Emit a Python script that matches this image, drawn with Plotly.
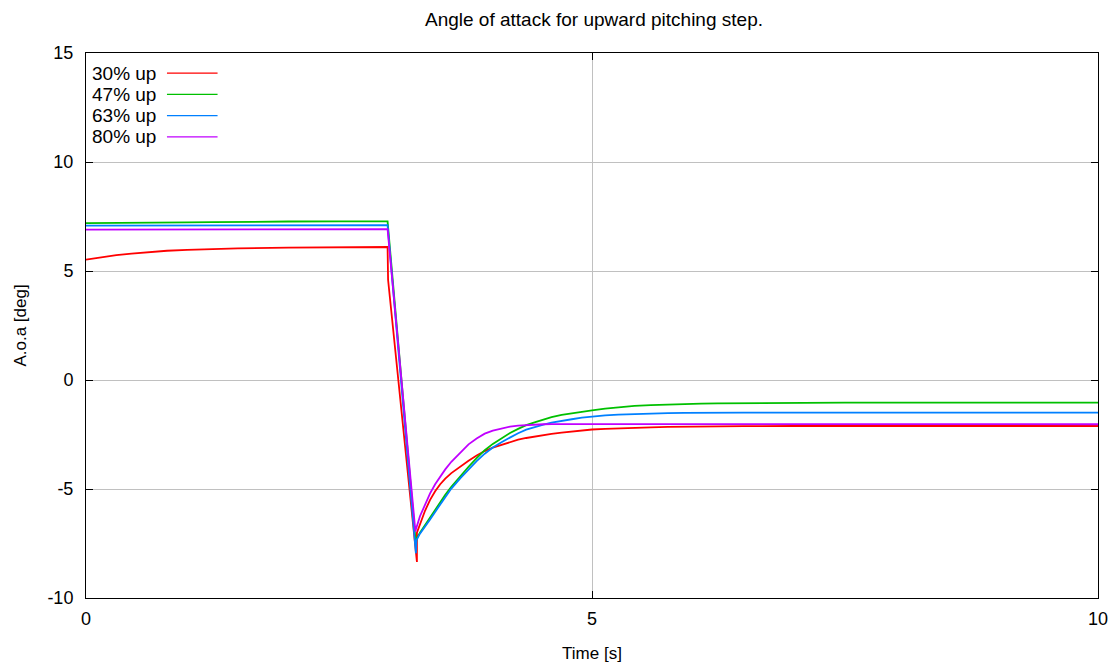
import plotly.graph_objects as go

# Time axis pieces [s]
t_pre = [0.0, 0.1, 0.2, 0.3, 0.45, 0.6, 0.8, 1.0, 1.25, 1.5, 2.0, 2.5, 2.98]
t_rec = [3.30, 3.35, 3.40, 3.45, 3.50, 3.55, 3.61, 3.70, 3.78, 3.86, 3.94,
         4.02, 4.11, 4.19, 4.27, 4.35, 4.44, 4.52, 4.60, 4.70, 4.80, 4.90,
         5.00, 5.13, 5.26, 5.42, 5.58, 5.75, 5.91, 6.08, 6.24, 6.50, 7.00,
         7.50, 8.00, 9.00, 10.00]

# Angle of attack [deg] for each pitch case
names = ["30% up", "47% up", "63% up", "80% up"]
colors = ["#ff0000", "#00c000", "#0080ff", "#c000ff"]

pre_30 = [5.52, 5.60, 5.67, 5.73, 5.80, 5.87, 5.93, 5.97, 6.01, 6.04, 6.07, 6.09, 6.10]
pre_47 = [7.20, 7.20, 7.21, 7.21, 7.21, 7.22, 7.22, 7.23, 7.24, 7.26, 7.27, 7.28, 7.28]
pre_63 = [7.08, 7.08, 7.08, 7.08, 7.08, 7.09, 7.09, 7.09, 7.09, 7.09, 7.10, 7.10, 7.10]
pre_80 = [6.90, 6.90, 6.90, 6.90, 6.90, 6.91, 6.91, 6.91, 6.91, 6.92, 6.92, 6.92, 6.92]

# Step transition: (time, value) pairs between plateau and recovery
step_t_30 = [2.985, 3.27, 3.27]
step_v_30 = [4.6, -8.35, -7.0]
step_t_47 = [3.26, 3.265]
step_v_47 = [-7.55, -7.3]
step_t_63 = [3.26, 3.265]
step_v_63 = [-7.95, -7.35]
step_t_80 = [3.255, 3.26]
step_v_80 = [-6.95, -6.85]

rec_30 = [-6.60, -6.00, -5.50, -5.10, -4.78, -4.52, -4.27, -3.96, -3.70, -3.46, -3.26,
          -3.10, -2.96, -2.84, -2.74, -2.66, -2.58, -2.52, -2.47, -2.41, -2.36, -2.31,
          -2.27, -2.24, -2.21, -2.19, -2.17, -2.15, -2.14, -2.13, -2.12, -2.12, -2.11,
          -2.11, -2.11, -2.11, -2.11]
rec_47 = [-7.00, -6.65, -6.30, -5.95, -5.60, -5.27, -4.90, -4.40, -3.98, -3.58, -3.22,
          -2.93, -2.66, -2.43, -2.24, -2.07, -1.93, -1.80, -1.70, -1.60, -1.52, -1.45,
          -1.39, -1.31, -1.25, -1.19, -1.15, -1.12, -1.10, -1.08, -1.07, -1.06, -1.05,
          -1.04, -1.04, -1.04, -1.04]
rec_63 = [-7.05, -6.75, -6.40, -6.05, -5.70, -5.35, -4.98, -4.50, -4.10, -3.72, -3.38,
          -3.10, -2.84, -2.62, -2.44, -2.28, -2.15, -2.05, -1.96, -1.87, -1.80, -1.73,
          -1.67, -1.62, -1.59, -1.56, -1.54, -1.52, -1.51, -1.50, -1.50, -1.50, -1.50,
          -1.50, -1.50, -1.50, -1.50]
rec_80 = [-6.25, -5.70, -5.20, -4.78, -4.42, -4.10, -3.75, -3.30, -2.95, -2.68, -2.46,
          -2.32, -2.21, -2.14, -2.09, -2.06, -2.04, -2.03, -2.02, -2.02, -2.01, -2.01,
          -2.01, -2.01, -2.01, -2.02, -2.02, -2.02, -2.02, -2.02, -2.02, -2.02, -2.02,
          -2.03, -2.03, -2.03, -2.03]

series = [
    (pre_30, step_t_30, step_v_30, rec_30),
    (pre_47, step_t_47, step_v_47, rec_47),
    (pre_63, step_t_63, step_v_63, rec_63),
    (pre_80, step_t_80, step_v_80, rec_80),
]

x_ticks = [0, 5, 10]
x_labels = ["0", "5", "10"]
y_ticks = [-10, -5, 0, 5, 10, 15]
y_labels = ["-10", "-5", "0", "5", "10", "15"]

FONT = "Liberation Sans, Arial, sans-serif"

fig = go.Figure()
for name, color, (pre, st, sv, rec) in zip(names, colors, series):
    fig.add_trace(go.Scatter(
        x=t_pre + st + t_rec,
        y=pre + sv + rec,
        mode="lines",
        name=name,
        line=dict(color=color, width=1.8),
        showlegend=False,
    ))

# Key in gnuplot style: label followed by a line sample
key_top = 0.963
key_step = 0.039
for i, (name, color) in enumerate(zip(names, colors)):
    yk = key_top - i * key_step
    fig.add_annotation(
        x=0.071, y=yk, xref="paper", yref="paper",
        text=name, showarrow=False, xanchor="right", yanchor="middle",
        font=dict(family=FONT, size=19, color="#000000"),
    )
    fig.add_shape(
        type="line", xref="paper", yref="paper",
        x0=0.080, x1=0.130, y0=yk, y1=yk,
        line=dict(color=color, width=1.3),
    )

axis_common = dict(
    showline=True, linecolor="#000000", linewidth=1, mirror="ticks",
    ticks="inside", ticklen=7, tickcolor="#000000",
    showgrid=True, gridcolor="#c0c0c0", gridwidth=1,
    zeroline=False,
    tickfont=dict(family=FONT, size=18, color="#000000"),
)

fig.update_layout(
    width=1120, height=671,
    paper_bgcolor="#ffffff", plot_bgcolor="#ffffff",
    margin=dict(l=86, r=18, t=53, b=71),
    title=dict(text="Angle of attack for upward pitching step.",
               x=(86 + 1102) / 2 / 1120, xanchor="center",
               y=1 - 19 / 671, yanchor="middle",
               font=dict(family=FONT, size=19, color="#000000")),
    xaxis=dict(range=[0, 10], tickvals=x_ticks, ticktext=x_labels,
               title=dict(text="Time [s]", standoff=19,
                          font=dict(family=FONT, size=17, color="#000000")),
               ticklabelstandoff=4,
               **axis_common),
    yaxis=dict(range=[-10, 15], tickvals=y_ticks, ticktext=y_labels,
               title=dict(text="A.o.a [deg]", standoff=16,
                          font=dict(family=FONT, size=17, color="#000000")),
               ticklabelstandoff=8,
               **axis_common),
)

fig.write_html("out.html")
